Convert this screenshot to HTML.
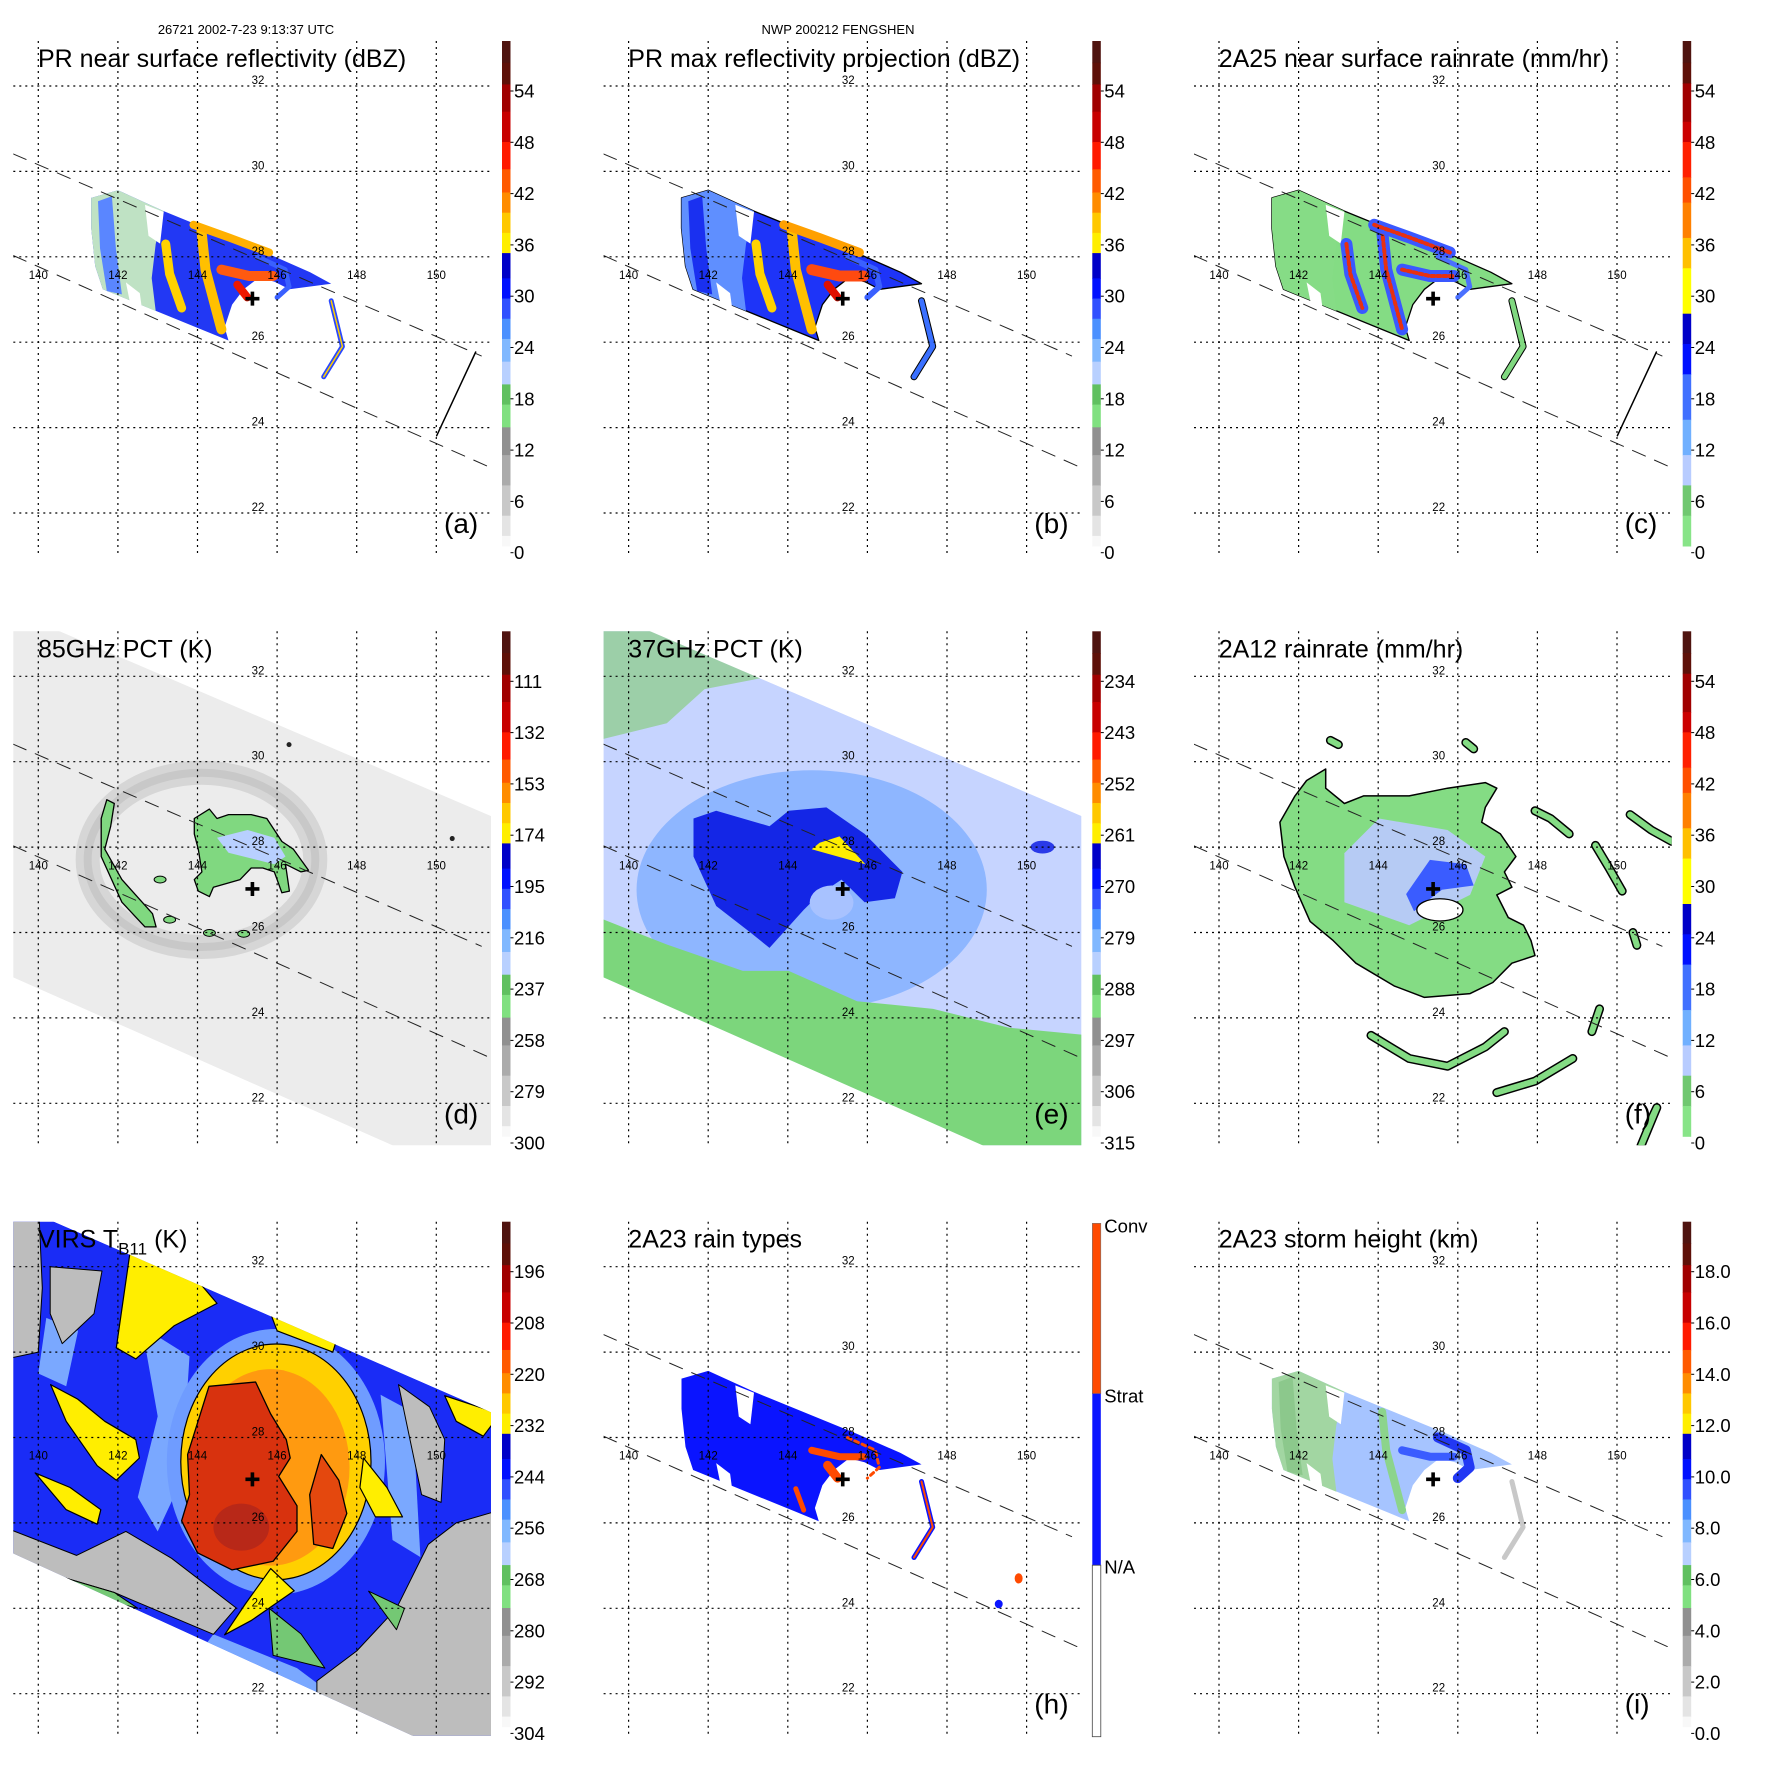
<!DOCTYPE html>
<html><head><meta charset="utf-8"><title>Typhoon Fengshen TRMM 9-panel</title>
<style>html,body{margin:0;padding:0;background:#fff}svg{display:block}</style></head>
<body>
<svg id="fig" xmlns="http://www.w3.org/2000/svg" width="1771" height="1771" viewBox="0 0 1771 1771" font-family="Liberation Sans, sans-serif">
<rect width="1771" height="1771" fill="#fff"/>
<text x="246" y="34" font-size="13" text-anchor="middle">26721 2002-7-23 9:13:37 UTC</text>
<text x="838" y="34" font-size="13" text-anchor="middle">NWP 200212 FENGSHEN</text>
</svg>
<script>
// ---- axis data ----
const lonTicks=[140,142,144,146,148,150];
const latTicks=[22,24,26,28,30,32];
const stormCenter=[145.38,27.02];
// swath edges (lon,lat)
const swathUpper=[[139.37,30.41],[151.13,25.68]];
const swathLower=[[139.37,28.03],[151.37,23.06]];
const bracketLine=[[150.99,25.77],[150.01,23.81]];
const tmiSwath=[[139.0,33.67],[151.6,28.64],[151.6,19.9],[139.0,25.1]];
const virsSwath=[[139.0,33.62],[151.6,28.5],[151.6,20.08],[139.0,25.44]];
// PR data region
const prSwath=[[141.33,29.38],[142.00,29.56],[143.15,29.07],[145.73,28.09],[146.83,27.64],[147.36,27.37],[146.31,27.24],[145.93,27.42],[145.54,27.51],[145.16,27.24],[144.87,26.88],[144.68,26.35],[144.78,26.04],[144.20,26.26],[141.62,27.24],[141.43,27.78],[141.33,28.67]];
const prLeft=[[141.33,29.38],[142.00,29.56],[143.15,29.07],[142.95,28.3],[142.85,27.5],[142.95,26.73],[141.62,27.24],[141.43,27.78],[141.33,28.67]];
const prBlueBand=[[141.5,29.3],[141.85,29.42],[141.95,28.2],[142.1,27.12],[141.72,27.2],[141.55,28.2]];
const prGap1=[[142.68,29.22],[143.15,29.05],[143.06,28.31],[142.77,28.49]];
const prGap2=[[142.2,27.4],[142.55,27.15],[142.6,26.8],[142.3,26.95]];
const band1=[[143.2,28.3],[143.3,27.6],[143.6,26.8]];
const band2=[[144.1,28.6],[144.2,27.7],[144.6,26.3]];
const band3=[[143.9,28.75],[144.8,28.45],[145.8,28.1]];
const coreBand=[[144.6,27.7],[145.3,27.55],[145.9,27.55]];
const coreHook=[[145.0,27.35],[145.25,27.05]];
const eyewallStrip=[[147.36,26.97],[147.64,25.9],[147.17,25.19]];
const innerRing=[[145.5,28.0],[146.2,27.7],[146.3,27.3],[146.0,27.05]];
// 85GHz
const d_crescent=[[141.72,29.11],[141.91,29.02],[141.82,28.49],[141.67,27.95],[142.10,27.24],[142.87,26.44],[142.96,26.13],[142.68,26.13],[142.10,26.71],[141.58,27.78],[141.58,28.67]];
const d_main=[[143.92,28.67],[144.30,28.89],[144.49,28.67],[144.78,28.76],[145.35,28.76],[145.74,28.67],[146.12,28.13],[146.41,27.95],[146.79,27.46],[146.60,27.42],[146.21,27.60],[146.31,26.97],[146.12,26.93],[145.93,27.42],[145.64,27.51],[145.35,27.51],[145.07,27.24],[144.40,27.06],[144.30,26.84],[144.02,26.97],[143.92,27.24],[144.11,27.42],[144.02,27.95],[143.92,28.31]];
const d_blue=[[144.49,28.22],[145.26,28.40],[145.93,28.22],[146.21,27.78],[145.93,27.60],[144.78,27.87]];
const d_small=[[143.06,27.24],[144.30,25.99],[145.16,25.97],[143.3,26.3]];
const d_ringCenter=[144.1,27.7];
const d_ringRadius=[2.86,2.04];
// 37GHz
const e_ellipse=[144.6,27.0,4.4,2.8];
const e_dark=[[141.63,28.67],[142.20,28.85],[143.54,28.49],[144.02,28.85],[144.97,28.93],[145.93,28.31],[146.88,27.42],[146.69,26.80],[145.93,26.71],[145.35,27.24],[144.78,26.88],[144.40,26.53],[143.54,25.64],[143.06,26.00],[142.20,26.62],[141.63,27.78]];
const e_greenBottom=[[139.0,26.44],[140.96,25.72],[142.87,25.10],[144.02,25.10],[145.74,24.39],[147.65,24.21],[149.56,23.77],[151.6,23.59],[151.6,19.5],[139.0,19.5]];
const e_greenTop=[[139.0,33.6],[141.91,33.6],[143.35,31.96],[141.91,31.70],[140.96,30.9],[139.0,30.45]];
const e_yellow=[[144.8,28.1],[145.3,28.25],[145.95,27.6],[144.6,27.95]];
const e_blob=[150.4,28.0];
// 2A12
const f_main=[[142.20,29.56],[142.68,29.83],[142.68,29.38],[143.15,29.02],[143.63,29.20],[144.78,29.20],[145.74,29.38],[146.69,29.51],[146.98,29.38],[146.69,28.93],[146.60,28.58],[147.07,28.31],[147.46,27.78],[147.17,27.42],[147.36,27.06],[146.98,26.88],[147.27,26.35],[147.65,26.17],[147.84,25.81],[147.94,25.46],[147.36,25.28],[146.88,24.83],[146.31,24.57],[145.16,24.48],[144.40,24.75],[143.44,25.28],[142.87,25.81],[142.29,26.26],[141.91,27.06],[141.63,27.78],[141.53,28.58],[141.91,29.20]];
const f_light=[[143.15,27.86],[144.02,28.67],[145.74,28.40],[146.69,27.78],[146.31,26.88],[144.78,26.17],[143.15,26.71]];
const f_blue=[[145.3,27.7],[146.2,27.6],[146.4,27.1],[145.6,27.0],[144.9,26.5],[144.7,26.9]];
const f_eye=[145.55,26.53,0.58,0.26];
const f_bands=[
 [[147.94,28.85],[148.33,28.67],[148.80,28.31]],
 [[150.33,28.76],[150.86,28.40],[151.38,28.13]],
 [[149.46,28.04],[149.80,27.51],[150.13,26.97]],
 [[143.82,23.59],[144.78,23.05],[145.74,22.87],[146.69,23.32],[147.17,23.68]],
 [[146.98,22.25],[147.94,22.52],[148.89,23.05]],
 [[149.37,23.68],[149.56,24.21]],
 [[146.2,30.45],[146.4,30.3]],
 [[142.8,30.5],[143.0,30.4]],
 [[150.4,26.0],[150.5,25.7]],
 [[150.8,21.5],[151.0,21.9],[150.6,21.0]]];
// VIRS
const g_disk=[145.97,27.43,2.39,2.76];
const g_diskInner=[145.84,27.3,1.98,2.3];
const g_core=[[144.29,29.2],[145.46,29.3],[145.84,28.55],[146.23,27.95],[146.33,27.52],[146.04,27.09],[146.5,26.40],[146.5,25.80],[145.9,25.1],[144.87,24.9],[144.0,25.3],[143.6,26.05],[143.8,26.66],[143.75,27.6]];
const g_arm=[[147.11,27.6],[147.55,27.0],[147.75,26.22],[147.40,25.4],[146.92,25.5],[146.82,26.66]];
const g_yellow=[
 [[140.31,29.24],[140.99,28.90],[141.67,28.38],[142.45,27.95],[142.54,27.52],[141.96,27.0],[141.48,27.34],[140.70,28.38]],
 [[142.3,32.3],[143.8,31.9],[144.10,31.57],[144.49,31.14],[143.42,30.62],[142.45,29.84],[141.96,30.10]],
 [[139.92,27.17],[140.80,26.83],[141.57,26.31],[141.48,25.97],[140.70,26.31]],
 [[148.17,27.52],[148.76,26.83],[149.15,26.14],[148.47,26.14],[148.08,26.83]],
 [[150.21,28.98],[151.6,28.55],[151.18,28.03],[150.50,28.38]],
 [[145.84,24.93],[146.43,24.41],[145.36,23.72],[144.68,23.38],[145.2,24.1]],
 [[145.8,31.0],[147.5,30.3],[147.4,30.0],[146.0,30.5]]];
const g_gray=[
 [[139.0,33.6],[140.0,33.6],[140.1,31.5],[140.0,30.0],[139.0,29.8]],
 [[140.3,32.0],[141.6,31.9],[141.4,30.9],[140.6,30.2],[140.3,30.9]],
 [[139.0,25.95],[140.96,25.24],[142.2,25.8],[143.35,25.17],[144.97,24.01],[144.4,23.39],[141.91,24.37],[139.0,25.17]],
 [[147.0,22.3],[148.0,23.0],[149.0,24.0],[149.8,25.5],[150.5,26.0],[151.6,26.3],[151.6,19.0],[147.0,19.0]],
 [[149.05,29.24],[149.83,28.72],[150.21,27.95],[150.12,26.48],[149.63,26.66],[149.34,27.95]]];
const g_green=[[[139.0,25.17],[141.91,24.37],[142.5,24.0],[139.0,24.8]],[[145.8,24.0],[146.6,23.4],[147.2,22.6],[145.9,22.9]],[[148.3,24.4],[149.2,24.0],[149.0,23.5]]];
const g_light=[[[142.6,30.6],[143.8,29.9],[143.6,27.0],[143.0,25.8],[142.5,26.6],[143.0,28.5]],[[140.2,30.8],[141.0,30.5],[140.7,29.2],[140.0,29.5]],[[144.4,23.39],[146.5,22.6],[147.5,21.9],[146.8,21.5],[144.0,22.9]],[[148.6,29.0],[149.4,28.6],[149.6,25.2],[148.9,25.6]]];
// colorbar labels
const cbA=["54","48","42","36","30","24","18","12","6","0"];
const cbD=["111","132","153","174","195","216","237","258","279","300"];
const cbE=["234","243","252","261","270","279","288","297","306","315"];
const cbG=["196","208","220","232","244","256","268","280","292","304"];
const cbI=["18.0","16.0","14.0","12.0","10.0","8.0","6.0","4.0","2.0","0.0"];
const cbH=["Conv","Strat","N/A"];

const NS="http://www.w3.org/2000/svg";
const svg=document.getElementById('fig');
const X=lon=>38.3+(lon-140)*39.8, Y=lat=>86+(32-lat)*42.7;
const P=pts=>pts.map(p=>X(p[0]).toFixed(1)+','+Y(p[1]).toFixed(1)).join(' ');
function el(parent,tag,attrs,name){const e=document.createElementNS(NS,tag);for(const k in attrs)e.setAttribute(k,attrs[k]);
 
 
 parent.appendChild(e);return e;}
function poly(g,pts,fill,name,stroke,sw){return el(g,'polygon',{points:P(pts),fill:fill,stroke:stroke||'none','stroke-width':sw||0,'stroke-linejoin':'round'},name);}
function pline(g,pts,color,w,name,dash){const a={points:P(pts),fill:'none',stroke:color,'stroke-width':w,'stroke-linecap':'round','stroke-linejoin':'round'};if(dash)a['stroke-dasharray']=dash;return el(g,'polyline',a,name);}
function ell(g,c,fill,name,stroke,sw){const rx=c[2]*39.8,ry=c[3]*42.7;return el(g,'ellipse',{cx:X(c[0]),cy:Y(c[1]),rx:rx,ry:ry,fill:fill,stroke:stroke||'none','stroke-width':sw||0},name);}

const stdStops=[[0,'#4f1410'],[0.043,'#5e1008'],[0.086,'#a00000'],[0.14,'#c80000'],[0.20,'#ff1a00'],[0.254,'#ff5a00'],[0.30,'#ff8c00'],[0.34,'#ffc800'],[0.38,'#ffee00'],[0.42,'#0000c8'],[0.47,'#0010ff'],[0.51,'#3050ff'],[0.55,'#4a90ff'],[0.59,'#80b8ff'],[0.635,'#b8d0ff'],[0.68,'#60c060'],[0.72,'#80e080'],[0.765,'#909090'],[0.82,'#ababab'],[0.88,'#c8c8c8'],[0.94,'#e4e4e4'],[0.98,'#f8f8f8'],[1,'']];
const rainStops=[[0,'#4f1410'],[0.043,'#5e1008'],[0.084,'#a00000'],[0.16,'#cc0000'],[0.20,'#ff2000'],[0.27,'#ff5000'],[0.32,'#ff8000'],[0.39,'#ffc000'],[0.45,'#ffff00'],[0.54,'#0000c8'],[0.60,'#0010ff'],[0.66,'#4070ff'],[0.75,'#70b0ff'],[0.82,'#b8ccff'],[0.88,'#70c870'],[0.94,'#88e488'],[1,'']];

function colorbar(g,stops,labels){
 const top=41,bot=546,x=502,w=8.5;
 for(let i=0;i<stops.length-1;i++){
  el(g,'rect',{x:x,y:top+stops[i][0]*(bot-top),width:w,height:(stops[i+1][0]-stops[i][0])*(bot-top)+0.5,fill:stops[i][1]},'colorbar-segment');
 }
 labels.forEach((t,i)=>{const y=91+i*51.3;
  el(g,'line',{x1:x+w,x2:x+w+3,y1:y,y2:y,stroke:'#000','stroke-width':1},'colorbar-tick');
  const tx=el(g,'text',{x:514,y:y+6.5,'font-size':18.5},'colorbar-label');tx.textContent=t;});
}
function frame(g){
 lonTicks.forEach(l=>{el(g,'line',{x1:X(l),x2:X(l),y1:41,y2:555,stroke:'#000','stroke-width':1.2,'stroke-dasharray':'2,4'},'lon-gridline');
  const t=el(g,'text',{x:X(l),y:279,'font-size':11.5,'text-anchor':'middle'},'lon-tick-label');t.textContent=l;});
 latTicks.forEach(l=>{el(g,'line',{x1:13.3,x2:491,y1:Y(l),y2:Y(l),stroke:'#000','stroke-width':1.2,'stroke-dasharray':'2,4'},'lat-gridline');
  const t=el(g,'text',{x:258,y:Y(l)-2,'font-size':11.5,'text-anchor':'middle'},'lat-tick-label');t.textContent=l;});
}
function swathLines(g){pline(g,swathUpper,'#222',1,'pr-swath-edge-upper','14,10');pline(g,swathLower,'#222',1,'pr-swath-edge-lower','14,10');}
function cross(g){const cx=X(stormCenter[0]),cy=Y(stormCenter[1]);
 el(g,'path',{d:`M${cx-7},${cy}H${cx+7}M${cx},${cy-7}V${cy+7}`,stroke:'#000','stroke-width':3.6},'storm-center-marker');}
function title(g,txt,name){const t=el(g,'text',{x:38,y:67,'font-size':25},name);t.textContent=txt;return t;}
function letter(g,txt){const t=el(g,'text',{x:444,y:533,'font-size':28},'panel-letter');t.textContent=txt;}

const panels=[
 {key:'a',c:0,r:0,title:'PR near surface reflectivity (dBZ)',cb:cbA,stops:stdStops},
 {key:'b',c:1,r:0,title:'PR max reflectivity projection (dBZ)',cb:cbA,stops:stdStops},
 {key:'c',c:2,r:0,title:'2A25 near surface rainrate (mm/hr)',cb:cbA,stops:rainStops},
 {key:'d',c:0,r:1,title:'85GHz PCT (K)',cb:cbD,stops:stdStops},
 {key:'e',c:1,r:1,title:'37GHz PCT (K)',cb:cbE,stops:stdStops},
 {key:'f',c:2,r:1,title:'2A12 rainrate (mm/hr)',cb:cbA,stops:rainStops},
 {key:'g',c:0,r:2,title:'',cb:cbG,stops:stdStops},
 {key:'h',c:1,r:2,title:'2A23 rain types',cb:null,stops:null},
 {key:'i',c:2,r:2,title:'2A23 storm height (km)',cb:cbI,stops:stdStops}];

const defs=el(svg,'defs',{},'defs');
const cp=el(defs,'clipPath',{id:'plotclip'},'plot-clip');
el(cp,'rect',{x:13.3,y:41,width:477.7,height:514},'plot-clip-rect');
const cpT=el(defs,'clipPath',{id:'tmiclip'},'tmi-clip');
poly(cpT,tmiSwath,'#000','tmi-clip-shape');
const cpV=el(defs,'clipPath',{id:'virsclip'},'virs-clip');
poly(cpV,virsSwath,'#000','virs-clip-shape');

function prBase(g,base,left,outline){
 poly(g,prSwath,base,'pr-rain-region',outline?'#000':'none',outline?1.3:0);
 poly(g,prLeft,left,'pr-left-region');
 poly(g,prGap1,'#fff','pr-gap');poly(g,prGap2,'#fff','pr-gap');
}
const draw={
 a(g){prBase(g,'#2238f4','#bfe2c4');poly(g,prBlueBand,'#5a86ff','pr-blue-band');
  pline(g,band1,'#ffd200',9,'yellow-band');pline(g,band2,'#ffc000',10,'yellow-band');pline(g,band3,'#ffb000',8,'yellow-band');
  pline(g,coreBand,'#ff5a10',10,'red-band');pline(g,coreHook,'#ee1800',8,'red-hook');
  pline(g,innerRing,'#3a60ff',5,'inner-ring');
  pline(g,eyewallStrip,'#2a48ff',5,'outer-eyewall-strip');pline(g,eyewallStrip,'#ffd000',1.5,'outer-eyewall-core');
  pline(g,bracketLine,'#000',1.5,'swath-end-bracket');},
 b(g){prBase(g,'#1e34f8','#5f8fff',true);poly(g,prBlueBand,'#1a30f0','pr-blue-band');
  pline(g,band1,'#ffd200',9,'yellow-band');pline(g,band2,'#ffc000',10,'yellow-band');pline(g,band3,'#ffa000',9,'yellow-band');
  pline(g,coreBand,'#ff4a10',11,'red-band');pline(g,coreHook,'#e01000',8,'red-hook');
  pline(g,innerRing,'#3a60ff',6,'inner-ring');
  pline(g,eyewallStrip,'#000',7,'outer-eyewall-outline');pline(g,eyewallStrip,'#3a70ff',5,'outer-eyewall-strip');},
 c(g){prBase(g,'#84dc84','#86dc86',true);
  [band1,band2,band3,coreBand].forEach(b=>{pline(g,b,'#3a58ff',12,'rain-band-blue');pline(g,b,'#e83010',4,'rain-band-red','3,3');});
  pline(g,innerRing,'#4a70ff',5,'inner-ring');
  pline(g,eyewallStrip,'#000',7,'outer-eyewall-outline');pline(g,eyewallStrip,'#80d880',5,'outer-eyewall-strip');
  pline(g,bracketLine,'#000',1.5,'swath-end-bracket');},
 d(g){const s=el(g,'g',{'clip-path':'url(#tmiclip)'},'tmi-layer');
  poly(s,tmiSwath,'#ececec','tmi-swath');
  const rc=[d_ringCenter[0],d_ringCenter[1],d_ringRadius[0],d_ringRadius[1]];
  ell(s,rc,'none','scattering-ring','#d6d6d6',24);ell(s,rc,'none','scattering-ring-core','#c8c8c8',8);
  poly(s,d_crescent,'#80d880','pct-crescent','#000',1.3);poly(s,d_main,'#80d880','pct-main','#000',1.3);
  poly(s,d_blue,'#b8d0ff','pct-blue-core');
  d_small.forEach(p=>ell(s,[p[0],p[1],0.15,0.08],'#80d880','pct-small-blob','#000',1));
  el(s,'circle',{cx:X(146.3),cy:Y(30.4),r:2.5,fill:'#222'},'cold-dot');el(s,'circle',{cx:X(150.4),cy:Y(28.2),r:2.5,fill:'#222'},'cold-dot');},
 e(g){const s=el(g,'g',{'clip-path':'url(#tmiclip)'},'tmi-layer');
  poly(s,tmiSwath,'#c6d4ff','tmi-swath');
  ell(s,e_ellipse,'#8eb6ff','medium-blue-region');
  poly(s,e_greenBottom,'#7cd67c','green-region');poly(s,e_greenTop,'#9ccfa8','green-region');
  poly(s,e_dark,'#1426e6','dark-blue-core');
  ell(s,[145.1,26.7,0.55,0.4],'#a8c2ff','eye-region');
  poly(s,e_yellow,'#ffee00','yellow-cells');
  ell(s,[e_blob[0],e_blob[1],0.3,0.15],'#2a3ae8','blue-blob');},
 f(g){poly(g,f_main,'#84dc84','rain-region','#000',1.5);
  poly(g,f_light,'#b6cbf4','light-rain-core');poly(g,f_blue,'#3a5cff','heavy-rain-core');
  ell(g,f_eye,'#fff','eye-hole','#000',1.3);
  f_bands.forEach(b=>{pline(g,b,'#000',9,'rainband-outline');pline(g,b,'#84dc84',6,'rainband');});},
 g(g){const s=el(g,'g',{'clip-path':'url(#virsclip)'},'virs-layer');
  poly(s,virsSwath,'#1a2cf6','virs-swath');
  g_light.forEach(p=>poly(s,p,'#7aa8ff','light-blue-region'));
  g_gray.forEach(p=>poly(s,p,'#bdbdbd','warm-gray-region','#000',1));
  g_green.forEach(p=>poly(s,p,'#74c874','green-region','#000',1));
  ell(s,[g_disk[0],g_disk[1],g_disk[2]+0.35,g_disk[3]+0.35],'#6f9cff','disk-fringe');
  ell(s,g_disk,'#ffd000','cloud-disk','#000',1.2);
  ell(s,g_diskInner,'#ff9a10','cloud-disk-inner');
  g_yellow.forEach(p=>poly(s,p,'#ffee00','yellow-arm','#000',1.2));
  poly(s,g_core,'#d8320e','cold-core','#000',1.3);poly(s,g_arm,'#e4480e','cold-arm','#000',1.3);
  ell(s,[145.1,25.9,0.7,0.55],'#b82818','coldest-region');},
 h(g){poly(g,prSwath,'#0a14ff','stratiform-region');poly(g,prGap1,'#fff','pr-gap');poly(g,prGap2,'#fff','pr-gap');
  pline(g,coreBand,'#ff4a00',7,'convective-band');pline(g,coreHook,'#ff4a00',9,'convective-hook');
  pline(g,[[144.2,26.8],[144.4,26.3]],'#ff4a00',5,'convective-band');
  pline(g,innerRing,'#ff4a00',3,'convective-ring','4,4');
  pline(g,eyewallStrip,'#0a14ff',5,'outer-eyewall-strip');pline(g,eyewallStrip,'#ff4a00',2,'outer-eyewall-conv');
  ell(g,[149.8,24.7,0.1,0.12],'#ff4a00','convective-cell');ell(g,[149.3,24.1,0.1,0.1],'#0a14ff','stratiform-cell');},
 i(g){prBase(g,'#a6c4ff','#a2d6a2');poly(g,prBlueBand,'#8cc88c','green-band');
  pline(g,innerRing,'#2238f4',10,'tall-echo-ring');pline(g,coreBand,'#3a5cff',8,'tall-echo-band');
  pline(g,band2,'#8cd48c',8,'green-band');
  pline(g,eyewallStrip,'#c8c8c8',5,'outer-eyewall-strip');}
};

panels.forEach(p=>{
 const ox=(p.c*590.33).toFixed(1),oy=(p.r*590.33).toFixed(1);
 const g=el(svg,'g',{transform:`translate(${ox},${oy})`},'panel-'+p.key);
 const data=el(g,'g',{'clip-path':'url(#plotclip)'},'map-layer');
 draw[p.key](data);
 frame(g);
 if(['a','b','c','d','e','f','h','i'].includes(p.key))swathLines(data);
 cross(g);
 if(p.key==='g'){const t=el(g,'text',{x:38,y:67,'font-size':25},'panel-title');t.innerHTML='VIRS T<tspan font-size="17" dy="7">B11</tspan><tspan dy="-7"> (K)</tspan>';}
 else title(g,p.title,'panel-title');
 if(p.key!=='g')letter(g,'('+p.key+')');
 if(p.cb)colorbar(g,p.stops,p.cb);
 else{
  el(g,'rect',{x:502,y:42.6,width:8.5,height:170.4,fill:'#ff4a00',stroke:'#777','stroke-width':0.6},'colorbar-conv');
  el(g,'rect',{x:502,y:213,width:8.5,height:171.5,fill:'#0a14ff'},'colorbar-strat');
  el(g,'rect',{x:502,y:384.5,width:8.5,height:171.5,fill:'#fff',stroke:'#444','stroke-width':0.8},'colorbar-na');
  [[52,cbH[0]],[222,cbH[1]],[393,cbH[2]]].forEach(v=>{const t=el(g,'text',{x:514,y:v[0],'font-size':18.5},'colorbar-label');t.textContent=v[1];});
 }
});
</script>
</body></html>
